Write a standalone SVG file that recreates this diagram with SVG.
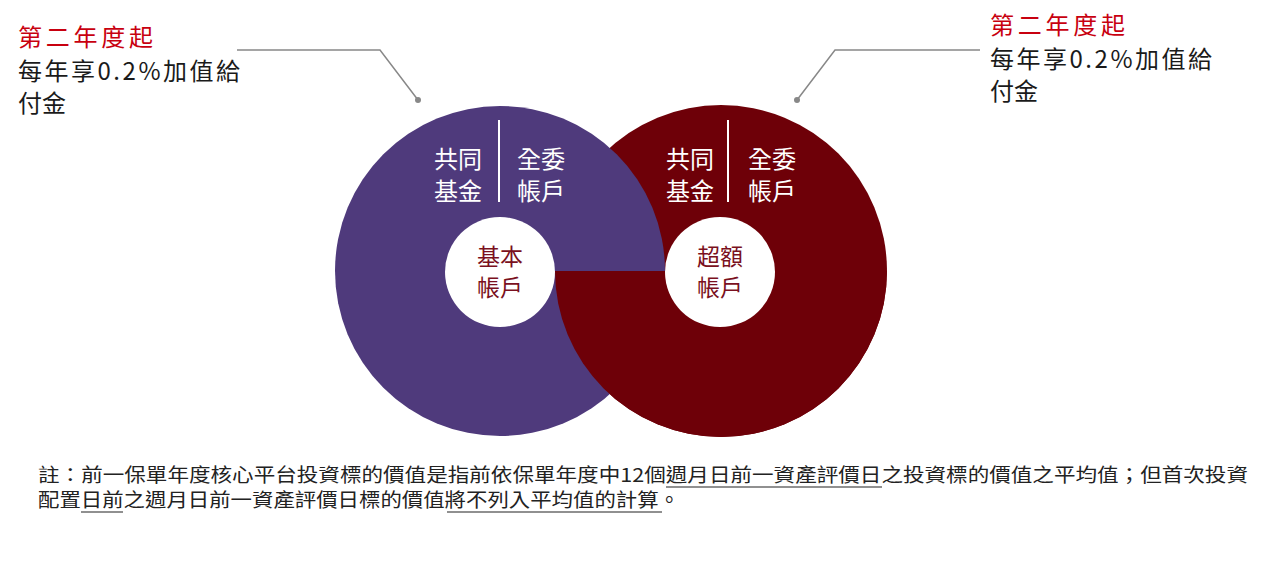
<svg xmlns="http://www.w3.org/2000/svg" width="1280" height="562" viewBox="0 0 1280 562">
<style>
text{font-family:"Noto Sans CJK TC","Noto Sans CJK SC",sans-serif}
.hd{fill:#c8000f;font-size:24px}
.bk{fill:#1a1a1a;font-size:24px}
.wt{fill:#fff;font-size:24px;text-anchor:middle}
.in{fill:#7a1020;font-size:23px;text-anchor:middle}
.nt{fill:#222;font-size:19px}
.ln{stroke:#888;stroke-width:1.5;fill:none}
.ul{stroke:#222;stroke-width:1.2}
</style>
<rect width="1280" height="562" fill="#fff"/>
<g id="circles">
<circle cx="721" cy="271" r="166" fill="#6e0008"/>
<circle cx="500" cy="271" r="165" fill="#4f3a7c"/>
<path d="M555,271 A166,166 0 0 0 887,271 Z" fill="#6e0008"/>
</g>
<g id="basic">
<text class="wt" x="458" y="168">共同</text><text class="wt" x="458" y="200">基金</text>
<line x1="499" y1="120" x2="499" y2="202" stroke="#fff" stroke-width="2"/>
<text class="wt" x="541" y="168">全委</text><text class="wt" x="541" y="200">帳戶</text>
<circle cx="500" cy="272" r="55" fill="#fff"/>
<text class="in" x="500" y="265">基本</text><text class="in" x="500" y="296">帳戶</text>
</g>
<g id="excess">
<text class="wt" x="690" y="168">共同</text><text class="wt" x="690" y="200">基金</text>
<line x1="728" y1="120" x2="728" y2="202" stroke="#fff" stroke-width="2"/>
<text class="wt" x="772" y="168">全委</text><text class="wt" x="772" y="200">帳戶</text>
<circle cx="720" cy="272" r="55" fill="#fff"/>
<text class="in" x="720" y="265">超額</text><text class="in" x="720" y="296">帳戶</text>
</g>
<g id="connectors">
<polyline class="ln" points="237,50 380,50 418,100"/>
<circle cx="418" cy="100" r="3" fill="#888"/>
<polyline class="ln" points="980,50 835,50 797,100"/>
<circle cx="797" cy="100" r="3" fill="#888"/>
</g>
<g id="label-left">
<text class="hd" x="18" y="46" textLength="135">第二年度起</text>
<text class="bk" x="18" y="80" textLength="222">每年享0.2%加值給</text>
<text class="bk" x="18" y="112">付金</text>
</g>
<g id="label-right">
<text class="hd" x="990" y="34" textLength="135">第二年度起</text>
<text class="bk" x="990" y="68" textLength="222">每年享0.2%加值給</text>
<text class="bk" x="990" y="100">付金</text>
</g>
<g id="note">
<text class="nt" x="38" y="482" textLength="1210" lengthAdjust="spacingAndGlyphs">註：前一保單年度核心平台投資標的價值是指前依保單年度中12個週月日前一資產評價日之投資標的價值之平均值；但首次投資</text>
<text class="nt" x="38" y="507" textLength="642" lengthAdjust="spacingAndGlyphs">配置日前之週月日前一資產評價日標的價值將不列入平均值的計算。</text>
<line class="ul" x1="666" y1="487" x2="882" y2="487"/>
<line class="ul" x1="81" y1="512" x2="123" y2="512"/>
<line class="ul" x1="447" y1="512" x2="662" y2="512"/>
</g>
</svg>
